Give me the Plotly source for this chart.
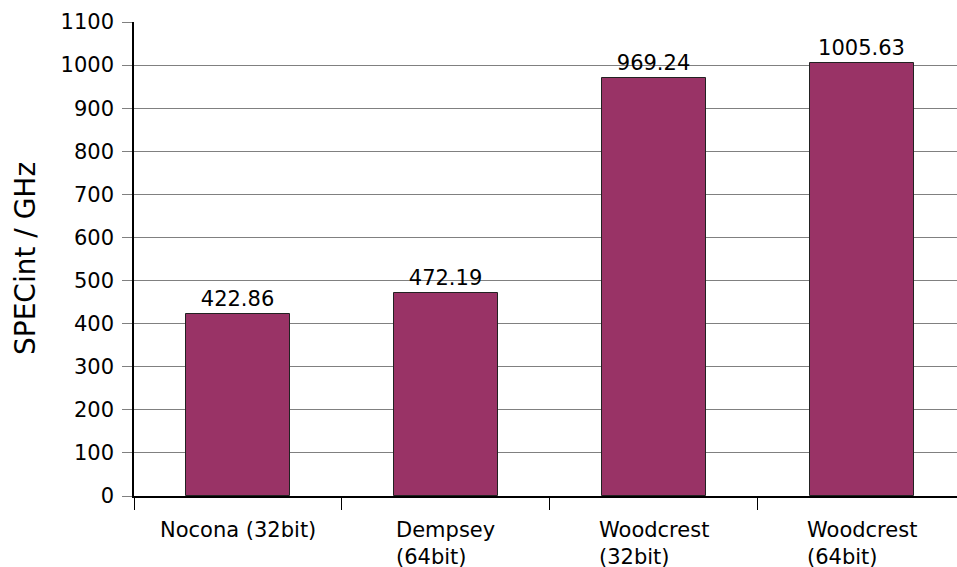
import plotly.graph_objects as go

categories = ["Nocona (32bit)", "Dempsey<br>(64bit)", "Woodcrest<br>(32bit)", "Woodcrest<br>(64bit)"]
values = [422.86, 472.19, 969.24, 1005.63]
value_labels = ["422.86", "472.19", "969.24", "1005.63"]
y_ticks = [0, 100, 200, 300, 400, 500, 600, 700, 800, 900, 1000, 1100]

FONT = "DejaVu Sans"
FS = 21
xpos = list(range(len(categories)))

fig = go.Figure()
fig.add_trace(go.Bar(
    x=xpos, y=values, width=0.5,
    marker=dict(color="#993366", line=dict(color="#222222", width=1)),
    text=value_labels, textposition="outside", cliponaxis=False,
    textfont=dict(family=FONT, size=FS, color="black"),
))

for i, c in enumerate(categories):
    fig.add_annotation(x=i, y=0, xref="x", yref="y", text=c, showarrow=False,
                       align="left", xanchor="center", yanchor="top", yshift=-20,
                       font=dict(family=FONT, size=FS, color="black"))

fig.add_annotation(x=0, y=0.5, xref="paper", yref="paper", text="SPECint / GHz",
                   textangle=-90, showarrow=False, xanchor="center", yanchor="middle",
                   xshift=-109, font=dict(family=FONT, size=28, color="black"))

fig.update_layout(
    width=957, height=567,
    margin=dict(l=134, r=0, t=22, b=71),
    paper_bgcolor="white", plot_bgcolor="white",
    showlegend=False, bargap=0,
    font=dict(family=FONT, size=FS, color="black"),
)
fig.update_xaxes(
    range=[-0.5, 3.457], tickvals=[-0.5, 0.5, 1.5, 2.5, 3.5], ticktext=["", "", "", "", ""],
    ticks="outside", ticklen=12, tickcolor="black", tickwidth=1,
    showgrid=False, showline=True, linecolor="black", linewidth=1.5, zeroline=False,
)
fig.update_yaxes(
    range=[0, 1100], tickvals=y_ticks, ticks="outside", ticklen=10, tickcolor="#808080",
    showgrid=True, gridcolor="#808080", gridwidth=1,
    showline=True, linecolor="black", linewidth=1.5, zeroline=False,
    tickfont=dict(family=FONT, size=FS, color="black"), ticklabelstandoff=4,
)

fig.write_html("out.html")
